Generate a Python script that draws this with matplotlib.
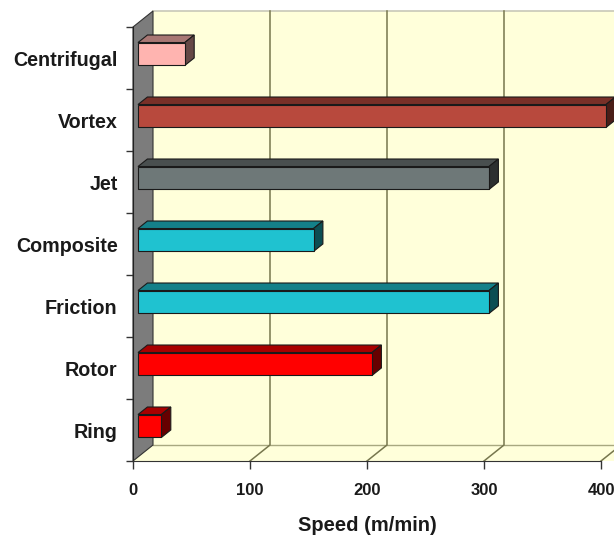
import matplotlib
matplotlib.use("Agg")
import matplotlib.pyplot as plt
from matplotlib.patches import Polygon
from matplotlib.colors import to_rgb

# Spinning systems and their delivery speeds (m/min), listed top to bottom
categories = ["Centrifugal", "Vortex", "Jet", "Composite", "Friction", "Rotor", "Ring"]
speeds = [40, 400, 300, 150, 300, 200, 20]
bar_colors = ["#FFB4B0", "#B8493D", "#6E7878", "#1FC2D0", "#1FC2D0", "#FF0000", "#FF0000"]
x_ticks = [0, 100, 200, 300, 400]
x_label = "Speed (m/min)"

plt.rcParams["font.family"] = ["Liberation Sans", "DejaVu Sans"]

W, H, DPI = 614, 539, 100
fig = plt.figure(figsize=(W / DPI, H / DPI), dpi=DPI, facecolor="white")

# front plane of the 3-D box in pixels
left_px, right_px, bottom_px, top_px = 133, 601, 461, 27
ax = fig.add_axes([left_px / W, 1 - bottom_px / H,
                   (right_px - left_px) / W, (bottom_px - top_px) / H])
n = len(categories)
ax.set_xlim(0, 400)
ax.set_ylim(-0.5, n - 0.5)
ax.set_facecolor("none")

# depth of the box expressed in data units
px_x = (right_px - left_px) / 400.0
px_y = (bottom_px - top_px) / n
DX = 20 / px_x
DY = 16 / px_y

ymin, ymax = -0.5, n - 0.5
wall = "#FFFFDA"
grid_c = "#77774E"

# back wall
ax.add_patch(Polygon([(DX, ymin + DY), (480, ymin + DY), (480, ymax + DY), (DX, ymax + DY)],
                     closed=True, facecolor=wall, edgecolor="none", clip_on=False, zorder=0))
ax.plot([DX, 480], [ymax + DY, ymax + DY], color="#C8C8B8", lw=1.2, clip_on=False, zorder=1)
# floor
ax.add_patch(Polygon([(0, ymin), (480, ymin), (480 + DX, ymin + DY), (DX, ymin + DY)],
                     closed=True, facecolor=wall, edgecolor="none", clip_on=False, zorder=0))
ax.plot([DX, 480], [ymin + DY, ymin + DY], color="#A8A880", lw=1.0, clip_on=False, zorder=1)
# left wall
ax.add_patch(Polygon([(0, ymin), (DX, ymin + DY), (DX, ymax + DY), (0, ymax)],
                     closed=True, facecolor="#7C7C7C", edgecolor="#333333", lw=0.8,
                     clip_on=False, zorder=1))

# gridlines running across the floor and up the back wall
for v in x_ticks[1:]:
    ax.plot([v, v + DX, v + DX], [ymin, ymin + DY, ymax + DY],
            color=grid_c, lw=1.1, clip_on=False, zorder=1)


def shade(c, f):
    r, g, b = to_rgb(c)
    return (r * f, g * f, b * f)


# 3-D bars
d0, d1 = 0.25, 0.72
bar_h = 0.37
for i, (name, val, col) in enumerate(zip(categories, speeds, bar_colors)):
    yc = n - 1 - i
    x0 = d0 * DX
    x1 = val + d0 * DX
    yb = yc - bar_h / 2 + d0 * DY
    yt = yc + bar_h / 2 + d0 * DY
    ddx = (d1 - d0) * DX
    ddy = (d1 - d0) * DY
    ec = "#1A1A1A"
    front = Polygon([(x0, yb), (x1, yb), (x1, yt), (x0, yt)], closed=True,
                    facecolor=col, edgecolor=ec, lw=0.8, clip_on=False, zorder=3)
    top = Polygon([(x0, yt), (x1, yt), (x1 + ddx, yt + ddy), (x0 + ddx, yt + ddy)], closed=True,
                  facecolor=shade(col, 0.66), edgecolor=ec, lw=0.8, clip_on=False, zorder=3)
    side = Polygon([(x1, yb), (x1 + ddx, yb + ddy), (x1 + ddx, yt + ddy), (x1, yt)], closed=True,
                   facecolor=shade(col, 0.40), edgecolor=ec, lw=0.8, clip_on=False, zorder=3)
    for p in (top, side, front):
        ax.add_patch(p)

# axes lines, ticks and labels
for s in ("top", "right"):
    ax.spines[s].set_visible(False)
ax.spines["left"].set_color("#222222")
ax.spines["bottom"].set_color("#333333")
ax.spines["left"].set_zorder(2)
ax.spines["bottom"].set_zorder(2)

text_c = "#1A1A1A"
ax.set_xticks(x_ticks)
ax.set_xticklabels([str(t) for t in x_ticks], fontsize=12, fontweight="bold", color=text_c)
ax.tick_params(axis="x", length=6, width=1, color="#333333", pad=10)

ax.set_yticks(range(n))
ax.set_yticklabels(categories[::-1], fontsize=14.2, fontweight="bold", color=text_c)
ax.set_yticks([k - 0.5 for k in range(n + 1)], minor=True)
ax.tick_params(axis="y", which="major", length=0, pad=11)
ax.tick_params(axis="y", which="minor", length=5, width=1, color="#333333")

ax.set_xlabel(x_label, fontsize=14.5, fontweight="bold", color=text_c, labelpad=13)

fig.savefig("out.png", dpi=DPI, facecolor="white")
